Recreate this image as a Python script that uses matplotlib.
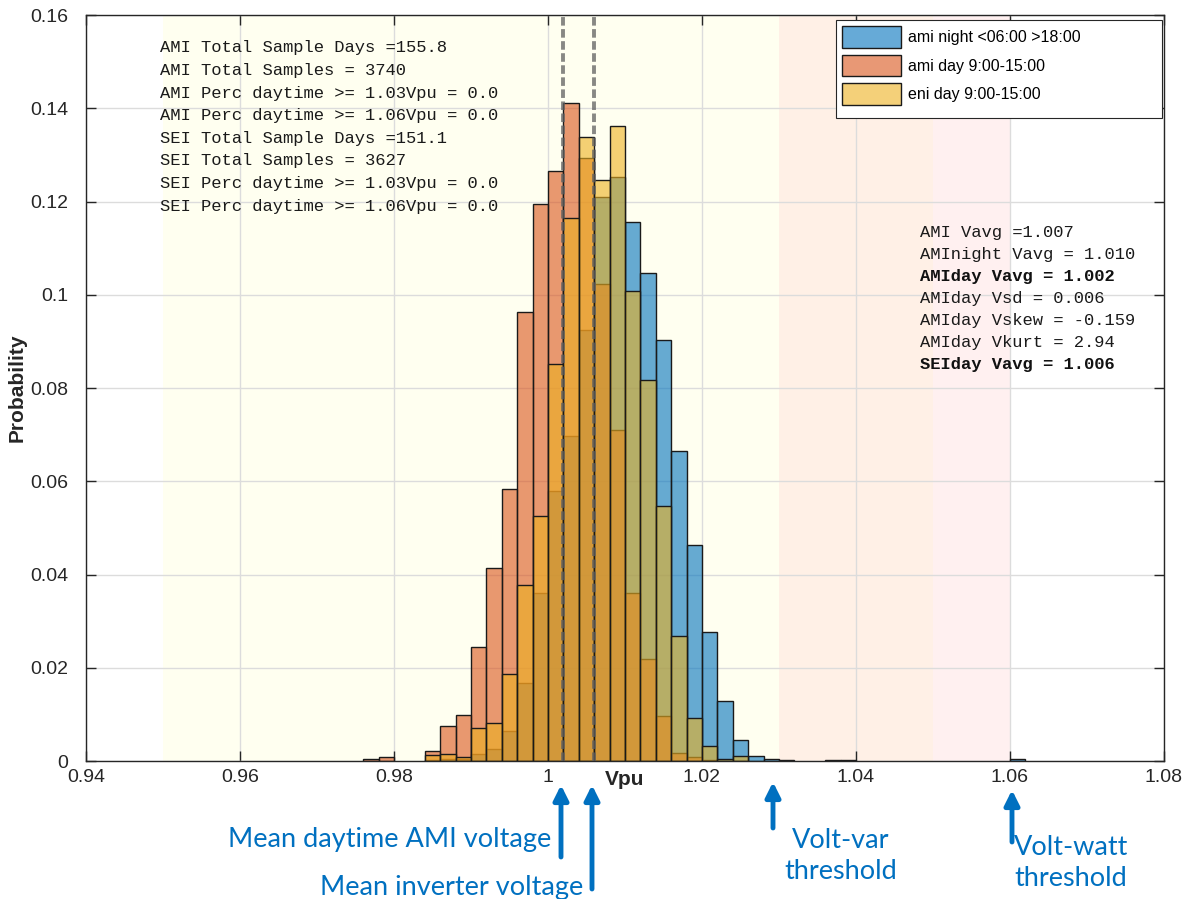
import numpy as np
import matplotlib.pyplot as plt
from matplotlib.patches import Patch, Rectangle, FancyArrowPatch

# Histogram bins (left edges, width 0.002 Vpu) and probabilities
bin_left = [0.976, 0.978, 0.980, 0.982, 0.984, 0.986, 0.988, 0.990, 0.992, 0.994,
            0.996, 0.998, 1.000, 1.002, 1.004, 1.006, 1.008, 1.010, 1.012, 1.014,
            1.016, 1.018, 1.020, 1.022, 1.024, 1.026, 1.028, 1.030, 1.032, 1.034,
            1.036, 1.038, 1.060]
bin_width = 0.002

ami_night = [0, 0, 0, 0, 0.0003, 0.0005, 0.0005, 0.0014, 0.0025, 0.0064,
             0.0168, 0.0360, 0.0580, 0.0696, 0.0925, 0.1209, 0.1252, 0.1157, 0.1047, 0.0902,
             0.0664, 0.0464, 0.0276, 0.0129, 0.0046, 0.0011, 0.0005, 0.0003, 0, 0,
             0.0003, 0.0003, 0.0004]
ami_day = [0.0004, 0.0008, 0, 0, 0.0021, 0.0074, 0.0099, 0.0245, 0.0413, 0.0583,
           0.0963, 0.1194, 0.1266, 0.1411, 0.1294, 0.1022, 0.0710, 0.0360, 0.0218, 0.0096,
           0.0017, 0.0009, 0.0003, 0, 0, 0, 0, 0, 0, 0,
           0, 0, 0]
eni_day = [0, 0, 0, 0, 0.0012, 0.0014, 0.0009, 0.0070, 0.0081, 0.0186,
           0.0378, 0.0525, 0.0852, 0.1165, 0.1339, 0.1246, 0.1363, 0.1007, 0.0818, 0.0547,
           0.0268, 0.0093, 0.0032, 0.0005, 0.0010, 0, 0, 0, 0, 0,
           0, 0, 0]

series_labels = ['ami night <06:00 >18:00', 'ami day 9:00-15:00', 'eni day 9:00-15:00']
series_colors = [(0, 0.447, 0.741), (0.85, 0.325, 0.098), (0.929, 0.694, 0.125)]

ami_day_mean = 1.002
sei_day_mean = 1.006

left_notes = ['AMI Total Sample Days =155.8',
              'AMI Total Samples = 3740',
              'AMI Perc daytime >= 1.03Vpu = 0.0',
              'AMI Perc daytime >= 1.06Vpu = 0.0',
              'SEI Total Sample Days =151.1',
              'SEI Total Samples = 3627',
              'SEI Perc daytime >= 1.03Vpu = 0.0',
              'SEI Perc daytime >= 1.06Vpu = 0.0']
right_notes = ['AMI Vavg =1.007',
               'AMInight Vavg = 1.010',
               'AMIday Vavg = 1.002',
               'AMIday Vsd = 0.006',
               'AMIday Vskew = -0.159',
               'AMIday Vkurt = 2.94',
               'SEIday Vavg = 1.006']
right_bold = [False, False, True, False, False, False, True]

xticks = [0.94, 0.96, 0.98, 1.00, 1.02, 1.04, 1.06, 1.08]
xticklabels = ['0.94', '0.96', '0.98', '1', '1.02', '1.04', '1.06', '1.08']
yticks = [0, 0.02, 0.04, 0.06, 0.08, 0.10, 0.12, 0.14, 0.16]
yticklabels = ['0', '0.02', '0.04', '0.06', '0.08', '0.1', '0.12', '0.14', '0.16']

plt.rcParams['font.family'] = ['Liberation Sans', 'DejaVu Sans']

W, H = 1183, 899
fig = plt.figure(figsize=(W / 100, H / 100), dpi=100)
ax = fig.add_axes([86 / W, 1 - 761 / H, 1078 / W, 746 / H])

# shaded voltage bands
ax.axvspan(0.95, 1.03, color='#fffff0', zorder=0, lw=0)
ax.axvspan(1.03, 1.05, color='#fff0e6', zorder=0, lw=0)
ax.axvspan(1.05, 1.06, color='#fff0f0', zorder=0, lw=0)

ax.grid(True, color='#dcdcdc', lw=1.0, zorder=0.5)
ax.set_axisbelow(True)

bl = np.array(bin_left)
for vals, col in zip([ami_night, ami_day, eni_day], series_colors):
    v = np.array(vals)
    m = v > 0
    ax.bar(bl[m], v[m], width=bin_width, align='edge',
           facecolor=col + (0.6,), edgecolor='#1a1a1a', lw=1.0, zorder=2)

for xm in [ami_day_mean, sei_day_mean]:
    ax.axvline(xm, color='#606060', lw=2.8, ls=(0, (2.2, 0.9)), alpha=0.75, zorder=3)

ax.set_xlim(0.94, 1.08)
ax.set_ylim(0, 0.16)
ax.set_xticks(xticks)
ax.set_xticklabels(xticklabels)
ax.set_yticks(yticks)
ax.set_yticklabels(yticklabels)
ax.tick_params(direction='in', length=7, width=1, colors='#262626', labelsize=14,
               top=True, right=True)
ax.tick_params(axis='x', pad=6)
ax.tick_params(axis='y', pad=13)
for s in ax.spines.values():
    s.set_color('#262626')
    s.set_linewidth(1.0)

ax.set_xlabel('Vpu', fontsize=15, fontweight='bold', color='#262626', labelpad=-12)
ax.set_ylabel('Probability', fontsize=15, fontweight='bold', color='#262626')
ax.yaxis.set_label_coords(-0.0555, 0.5)

# legend with a MATLAB-like wide box
ax.add_patch(Rectangle((0.6957, 0.8619), 0.3024, 0.1314, transform=ax.transAxes,
                       facecolor='white', edgecolor='#262626', lw=0.8, zorder=5))
handles = [Patch(facecolor=c + (0.6,), edgecolor='#1a1a1a', lw=1.0) for c in series_colors]
leg = ax.legend(handles, series_labels, loc='upper left', bbox_to_anchor=(0.6957, 0.9933),
                borderaxespad=0, fontsize=11.5, handlelength=3.7, handleheight=1.69,
                labelspacing=0.44, handletextpad=0.4, borderpad=0.4, frameon=False)
leg.set_zorder(6)

mono = ['Liberation Mono', 'DejaVu Sans Mono']
for i, t in enumerate(left_notes):
    ax.text(0.0686, 0.956 - i * 0.0303, t, transform=ax.transAxes, family=mono,
            fontsize=12.3, color='#1a1a1a', va='center', ha='left', zorder=4)
for i, (t, b) in enumerate(zip(right_notes, right_bold)):
    ax.text(0.7737, 0.709 - i * 0.0295, t, transform=ax.transAxes, family=mono,
            fontsize=12.3, color='#111111' if b else '#1a1a1a',
            fontweight='bold' if b else 'normal', va='center', ha='left', zorder=4)

# annotations below the axis
blue = '#0070C0'
ann = ['Lato', 'DejaVu Sans']


def px(x, y):
    return (x / W, 1 - y / H)


arrows = [((561, 857), (561, 785)),
          ((592, 889), (592, 785)),
          ((773, 828), (773, 782)),
          ((1012, 842), (1012, 790))]
for start, tip in arrows:
    fig.add_artist(FancyArrowPatch(
        px(*start), px(*tip), transform=fig.transFigure, arrowstyle='-|>',
        mutation_scale=22, lw=3.5, color=blue, shrinkA=0, shrinkB=0))

fig.text(*px(551, 839), 'Mean daytime AMI voltage', color=blue, fontsize=19.5,
         family=ann, ha='right', va='center')
fig.text(*px(583, 887), 'Mean inverter voltage', color=blue, fontsize=19.5,
         family=ann, ha='right', va='center')
fig.text(*px(841, 856), 'Volt-var\nthreshold', color=blue, fontsize=19.5,
         family=ann, ha='center', va='center', linespacing=1.3)
fig.text(*px(1071, 863), 'Volt-watt\nthreshold', color=blue, fontsize=19.5,
         family=ann, ha='center', va='center', linespacing=1.3)

fig.savefig('out.png', dpi=100)
